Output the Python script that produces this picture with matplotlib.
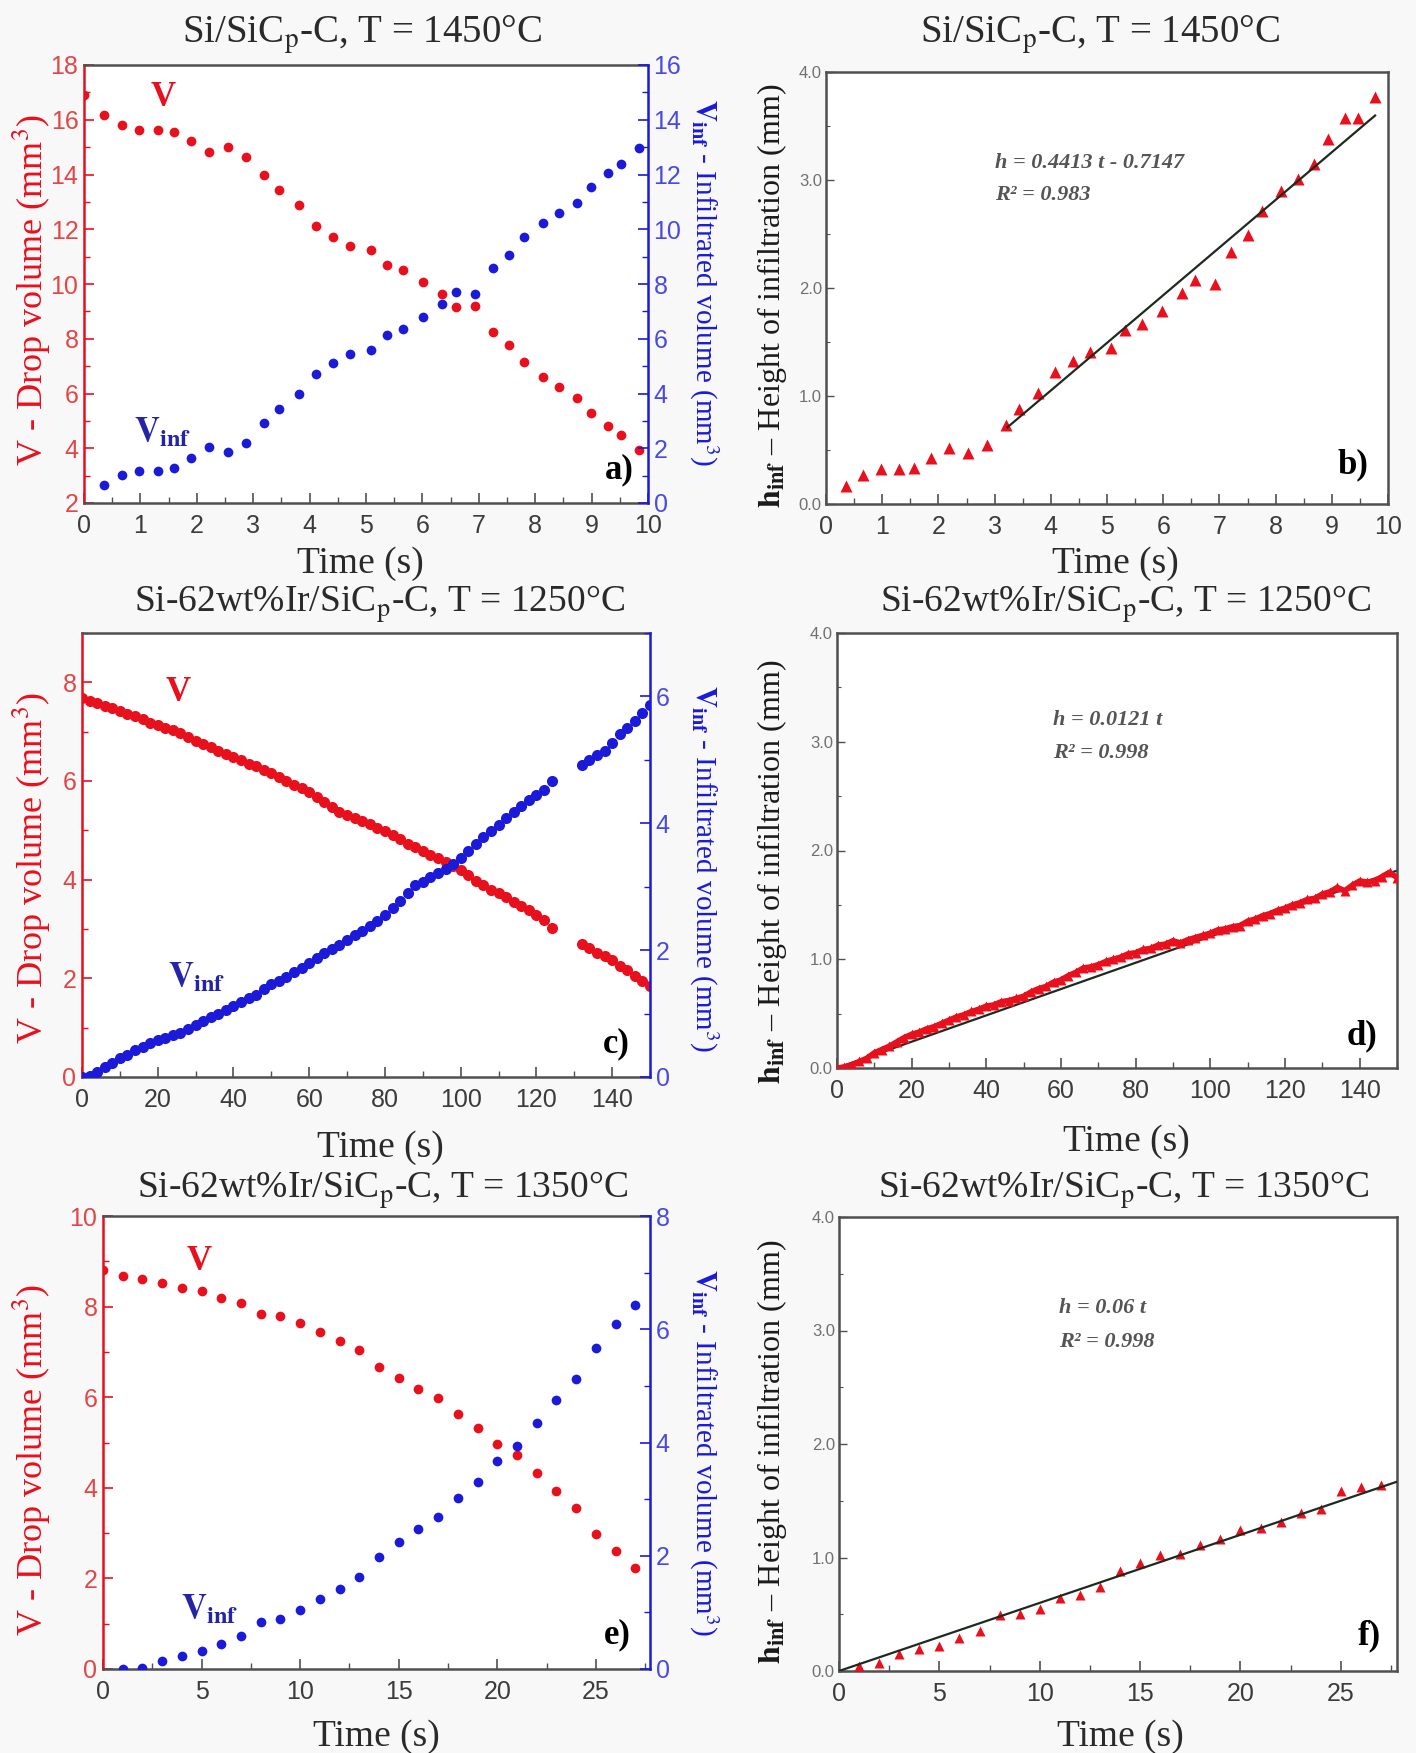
# Drop volume and infiltration height versus time for three Si/SiC systems.

import numpy as np
import matplotlib.pyplot as plt
from matplotlib.ticker import MultipleLocator, FormatStrFormatter

plt.rcParams['font.family'] = 'serif'
plt.rcParams['font.serif'] = ['Liberation Serif', 'DejaVu Serif']
plt.rcParams['mathtext.fontset'] = 'stix'

W, H = 1416, 1753
RED = '#e8101c'
BLUE = '#1a1ad8'
NAVY = '#2424a8'
GREY = '#505050'
FIT = '#1f2a1f'
TICK_FONT = ['Liberation Sans Narrow', 'Liberation Sans', 'DejaVu Sans']

# --- a) / b): Si/SiCp-C, 1450 C ---
t_drop_a = [0.0, 0.35, 0.67, 0.97, 1.32, 1.59, 1.90, 2.22, 2.55, 2.88, 3.20,
            3.46, 3.81, 4.12, 4.42, 4.72, 5.08, 5.38, 5.65, 6.01, 6.34, 6.60,
            6.93, 7.25, 7.54, 7.80, 8.14, 8.42, 8.74, 8.99, 9.29, 9.53, 9.84]
drop_a = [16.9, 16.18, 15.82, 15.61, 15.61, 15.54, 15.21, 14.81, 14.99, 14.64,
          13.98, 13.42, 12.87, 12.11, 11.72, 11.39, 11.25, 10.69, 10.52, 10.08,
          9.64, 9.15, 9.21, 8.24, 7.78, 7.15, 6.61, 6.24, 5.84, 5.27, 4.81,
          4.48, 3.92]
t_inf_a = [0.35, 0.67, 0.97, 1.32, 1.59, 1.90, 2.22, 2.55, 2.88, 3.20, 3.46,
           3.81, 4.12, 4.42, 4.72, 5.08, 5.38, 5.65, 6.01, 6.34, 6.60, 6.93,
           7.25, 7.54, 7.80, 8.14, 8.42, 8.74, 8.99, 9.29, 9.53, 9.84]
infl_a = [0.67, 1.03, 1.18, 1.18, 1.27, 1.64, 2.06, 1.88, 2.21, 2.91, 3.45,
          4.00, 4.73, 5.12, 5.45, 5.58, 6.15, 6.34, 6.79, 7.27, 7.72, 7.64,
          8.58, 9.05, 9.73, 10.23, 10.61, 10.97, 11.55, 12.04, 12.39, 12.97]

t_h_b = [0.36, 0.66, 0.97, 1.30, 1.56, 1.87, 2.19, 2.53, 2.86, 3.20, 3.44,
         3.78, 4.08, 4.40, 4.69, 5.08, 5.32, 5.62, 5.98, 6.34, 6.57, 6.92,
         7.20, 7.50, 7.76, 8.09, 8.40, 8.68, 8.93, 9.24, 9.47, 9.77]
h_b = [0.17, 0.27, 0.32, 0.32, 0.33, 0.43, 0.52, 0.47, 0.55, 0.73, 0.88,
       1.03, 1.22, 1.32, 1.41, 1.44, 1.61, 1.67, 1.79, 1.95, 2.07, 2.04,
       2.33, 2.49, 2.71, 2.90, 3.01, 3.15, 3.38, 3.57, 3.57, 3.77]
fit_b = (0.4413, -0.7147)
fit_range_b = [3.23, 9.77]

# --- c) / d): Si-62wt%Ir/SiCp-C, 1250 C ---
t_c = [0, 2, 4, 6, 8, 10, 12, 14, 16, 18, 20, 22, 24, 26, 28, 30, 32, 34, 36,
       38, 40, 42, 44, 46, 48, 50, 52, 54, 56, 58, 60, 62, 64, 66, 68, 70, 72,
       74, 76, 78, 80, 82, 84, 86, 88, 90, 92, 94, 96, 98, 100, 102, 104, 106,
       108, 110, 112, 114, 116, 118, 120, 122, 124,
       132, 134, 136, 138, 140, 142, 144, 146, 148, 150]
drop_c = [7.68, 7.62, 7.58, 7.52, 7.47, 7.42, 7.36, 7.31, 7.26, 7.18, 7.14,
          7.08, 7.03, 6.97, 6.90, 6.82, 6.76, 6.68, 6.60, 6.55, 6.48, 6.42,
          6.35, 6.30, 6.22, 6.17, 6.08, 6.01, 5.92, 5.86, 5.78, 5.68, 5.58,
          5.47, 5.38, 5.32, 5.26, 5.18, 5.12, 5.05, 4.98, 4.90, 4.82, 4.73,
          4.66, 4.58, 4.50, 4.44, 4.35, 4.28, 4.20, 4.10, 3.98, 3.90, 3.80,
          3.72, 3.64, 3.55, 3.46, 3.38, 3.28, 3.18, 3.02,
          2.70, 2.62, 2.52, 2.46, 2.38, 2.25, 2.16, 2.05, 1.95, 1.84]
infl_c = [0.00, 0.02, 0.08, 0.16, 0.22, 0.30, 0.35, 0.42, 0.47, 0.53, 0.58,
          0.62, 0.66, 0.70, 0.76, 0.82, 0.88, 0.94, 1.00, 1.06, 1.12, 1.18,
          1.24, 1.30, 1.38, 1.46, 1.52, 1.58, 1.65, 1.72, 1.80, 1.88, 1.96,
          2.02, 2.08, 2.16, 2.24, 2.30, 2.38, 2.46, 2.56, 2.66, 2.78, 2.90,
          3.02, 3.08, 3.16, 3.22, 3.28, 3.36, 3.46, 3.56, 3.68, 3.78, 3.88,
          3.98, 4.08, 4.18, 4.28, 4.36, 4.44, 4.52, 4.66,
          4.92, 5.00, 5.08, 5.14, 5.26, 5.40, 5.50, 5.62, 5.74, 5.86]

t_d = [0, 2, 4, 6, 8, 10, 12, 14, 16, 18, 20, 22, 24, 26, 28, 30, 32, 34, 36,
       38, 40, 42, 44, 46, 48, 50, 52, 54, 56, 58, 60, 62, 64, 66, 68, 70, 72,
       74, 76, 78, 80, 82, 84, 86, 88, 90, 92, 94, 96, 98, 100, 102, 104, 106,
       108, 110, 112, 114, 116, 118, 120, 122, 124, 126, 128, 130, 132, 134,
       136, 138, 140, 142, 144, 146, 148, 150]
h_d = [0.00, 0.01, 0.03, 0.06, 0.09, 0.14, 0.17, 0.20, 0.24, 0.28, 0.31,
       0.33, 0.36, 0.38, 0.41, 0.44, 0.47, 0.49, 0.52, 0.54, 0.57, 0.58,
       0.61, 0.62, 0.64, 0.66, 0.70, 0.73, 0.75, 0.79, 0.81, 0.85, 0.88,
       0.92, 0.93, 0.95, 0.98, 1.00, 1.02, 1.05, 1.06, 1.09, 1.10, 1.13,
       1.14, 1.17, 1.15, 1.18, 1.20, 1.22, 1.24, 1.27, 1.28, 1.30, 1.31,
       1.35, 1.37, 1.40, 1.42, 1.45, 1.47, 1.50, 1.52, 1.55, 1.56, 1.60,
       1.62, 1.66, 1.63, 1.68, 1.72, 1.71, 1.72, 1.76, 1.80, 1.75]
fit_d = (0.0121, 0.0)
fit_range_d = [0, 150]

# --- e) / f): Si-62wt%Ir/SiCp-C, 1350 C ---
t_drop_e = [0, 1, 2, 3, 4, 5, 6, 7, 8, 9, 10, 11, 12, 13, 14, 15, 16, 17, 18,
            19, 20, 21, 22, 23, 24, 25, 26, 27]
drop_e = [8.80, 8.68, 8.62, 8.53, 8.41, 8.34, 8.20, 8.08, 7.83, 7.79, 7.63,
          7.43, 7.24, 7.05, 6.67, 6.42, 6.19, 5.98, 5.63, 5.33, 4.96, 4.73,
          4.32, 3.93, 3.55, 2.99, 2.60, 2.22]
t_inf_e = [1, 2, 3, 4, 5, 6, 7, 8, 9, 10, 11, 12, 13, 14, 15, 16, 17, 18, 19,
           20, 21, 22, 23, 24, 25, 26, 27]
infl_e = [0.00, 0.02, 0.14, 0.23, 0.32, 0.44, 0.58, 0.83, 0.89, 1.05, 1.24,
          1.41, 1.62, 1.97, 2.24, 2.47, 2.68, 3.02, 3.30, 3.68, 3.93, 4.35,
          4.75, 5.12, 5.67, 6.09, 6.43]

t_h_f = [1, 2, 3, 4, 5, 6, 7, 8, 9, 10, 11, 12, 13, 14, 15, 16, 17, 18, 19,
         20, 21, 22, 23, 24, 25, 26, 27]
h_f = [0.04, 0.07, 0.15, 0.19, 0.22, 0.29, 0.35, 0.49, 0.50, 0.55, 0.64,
       0.67, 0.74, 0.88, 0.95, 1.02, 1.03, 1.11, 1.16, 1.24, 1.26, 1.31,
       1.39, 1.43, 1.59, 1.62, 1.64]
fit_f = (0.06, 0.0)
fit_range_f = [0, 27.8]

TITLE_1450 = r'Si/SiC$_\mathrm{p}$-C, T = 1450°C'
TITLE_1250 = r'Si-62wt%Ir/SiC$_\mathrm{p}$-C, T = 1250°C'
TITLE_1350 = r'Si-62wt%Ir/SiC$_\mathrm{p}$-C, T = 1350°C'


def px_rect(left, top, right, bottom):
    """Axes rectangle in figure fractions from pixel edges."""
    return [left / W, 1 - bottom / H, (right - left) / W, (bottom - top) / H]


def fig_text(fig, x, y, s, **kw):
    """Place text centred at pixel position (x, y) measured from the top left."""
    fig.text(x / W, 1 - y / H, s, ha='center', va='center', **kw)


def style_time_axis(ax, xlim, major, minor):
    ax.set_xlim(*xlim)
    ax.xaxis.set_major_locator(MultipleLocator(major))
    ax.xaxis.set_minor_locator(MultipleLocator(minor))
    ax.tick_params(axis='x', which='both', direction='in', top=False,
                   color=GREY, labelcolor='#3c3c3c', labelsize=18, pad=8,
                   labelfontfamily=TICK_FONT)
    ax.tick_params(axis='x', which='major', length=7, width=1.2)
    ax.tick_params(axis='x', which='minor', length=4, width=1.0)
    for side in ('top', 'bottom'):
        ax.spines[side].set_color(GREY)
        ax.spines[side].set_linewidth(1.8)


def volume_panel(fig, rect, t_drop, drop, t_inf, infl, xlim, xmajor, xminor,
                 ylim_left, ylim_right, v_pos, vinf_pos, letter, ms):
    """Drop volume (left, red) and infiltrated volume (right, blue)."""
    ax = fig.add_axes(rect)
    ax2 = ax.twinx()
    ax.plot(t_drop, drop, 'o', color=RED, ms=ms, mec='none', zorder=3)
    ax2.plot(t_inf, infl, 'o', color=BLUE, ms=ms, mec='none', zorder=3)

    style_time_axis(ax, xlim, xmajor, xminor)
    ax.set_ylim(*ylim_left)
    ax2.set_ylim(*ylim_right)
    for a, c, lc in ((ax, RED, '#e04848'), (ax2, BLUE, '#4a4ae0')):
        a.yaxis.set_major_locator(MultipleLocator(2))
        a.yaxis.set_minor_locator(MultipleLocator(1))
        a.tick_params(axis='y', which='both', direction='in', color=c,
                      labelcolor=lc, labelsize=18, pad=4,
                      labelfontfamily=TICK_FONT)
        a.tick_params(axis='y', which='major', length=7, width=1.2)
        a.tick_params(axis='y', which='minor', length=4, width=1.0)
    ax.spines['left'].set_color(RED)
    ax.spines['left'].set_linewidth(1.8)
    ax.spines['right'].set_visible(False)
    for side in ('left', 'top', 'bottom'):
        ax2.spines[side].set_visible(False)
    ax2.spines['right'].set_color(BLUE)
    ax2.spines['right'].set_linewidth(1.8)

    ax.text(v_pos[0], v_pos[1], 'V', color=RED, fontsize=25,
            fontweight='bold', ha='center', va='center')
    ax.text(vinf_pos[0], vinf_pos[1], r'$\mathbf{V_{inf}}$', color=NAVY,
            fontsize=25, ha='center', va='center')
    ax2.text(letter[1], letter[2], letter[0], transform=ax.transAxes,
             fontsize=25, fontweight='bold', ha='center', va='center')
    return ax, ax2


def height_panel(fig, rect, t, h, xlim, xmajor, xminor, fit, fit_range,
                 equation, eq_pos, letter, ms, dense=False):
    """Infiltration height with its linear fit."""
    ax = fig.add_axes(rect)
    if dense:
        ax.plot(t, h, '^-', color=RED, ms=ms, lw=4, mec='none', zorder=3)
    else:
        ax.plot(t, h, '^', color=RED, ms=ms, mec='none', zorder=3)
    fit_t = np.array(fit_range)
    ax.plot(fit_t, fit[0] * fit_t + fit[1], color=FIT, lw=1.6,
            zorder=2 if dense else 4)

    style_time_axis(ax, xlim, xmajor, xminor)
    ax.set_ylim(0, 4)
    ax.yaxis.set_major_locator(MultipleLocator(1))
    ax.yaxis.set_minor_locator(MultipleLocator(0.5))
    ax.yaxis.set_major_formatter(FormatStrFormatter('%.1f'))
    ax.tick_params(axis='y', which='both', direction='in', color=GREY,
                   labelcolor='#707070', labelsize=12, pad=3,
                   labelfontfamily=['Liberation Sans', 'DejaVu Sans'])
    ax.tick_params(axis='y', which='major', length=6, width=1.0)
    ax.tick_params(axis='y', which='minor', length=3, width=0.8)
    for side in ('left', 'right'):
        ax.spines[side].set_color(GREY)
        ax.spines[side].set_linewidth(1.8)

    for k, line in enumerate(equation):
        ax.text(eq_pos[0], eq_pos[1] - 0.075 * k, line,
                transform=ax.transAxes, fontsize=16, fontstyle='italic',
                fontweight='bold', color='#555555', ha='left', va='center')
    ax.text(letter[1], letter[2], letter[0], transform=ax.transAxes,
            fontsize=25, fontweight='bold', ha='center', va='center')
    return ax


fig = plt.figure(figsize=(W / 100, H / 100), dpi=100, facecolor='#f8f8f8')

# left column: volumes
volume_panel(fig, px_rect(84, 65, 648, 503), t_drop_a, drop_a, t_inf_a, infl_a,
             (0, 10), 1, 0.5, (2, 18), (0, 16), (1.4, 16.8), (1.4, 4.55),
             ('a)', 0.95, 0.075), ms=7)
volume_panel(fig, px_rect(82, 633, 650, 1077), t_c, drop_c, t_c, infl_c,
             (0, 150), 20, 10, (0, 9), (0, 7), (25.3, 7.8), (30.2, 2.0),
             ('c)', 0.94, 0.075), ms=8)
volume_panel(fig, px_rect(103, 1216, 650, 1669), t_drop_e, drop_e, t_inf_e,
             infl_e, (0, 27.75), 5, 2.5, (0, 10), (0, 8), (4.9, 9.0),
             (5.4, 1.3), ('e)', 0.94, 0.075), ms=7)

# right column: infiltration heights
height_panel(fig, px_rect(826, 72, 1388, 504), t_h_b, h_b, (0, 10), 1, 0.5,
             fit_b, fit_range_b, ('h = 0.4413 t - 0.7147', 'R² = 0.983'),
             (0.30, 0.79), ('b)', 0.937, 0.09), ms=8)
height_panel(fig, px_rect(837, 633, 1397, 1068), t_d, h_d, (0, 150), 20, 10,
             fit_d, fit_range_d, ('h = 0.0121 t', 'R² = 0.998'),
             (0.385, 0.80), ('d)', 0.937, 0.075), ms=7, dense=True)
height_panel(fig, px_rect(839, 1217, 1397, 1671), t_h_f, h_f, (0, 27.8), 5, 2.5,
             fit_f, fit_range_f, ('h = 0.06 t', 'R² = 0.998'),
             (0.394, 0.80), ('f)', 0.95, 0.078), ms=7)

# panel titles
fig_text(fig, 362, 35, TITLE_1450, fontsize=28, color='#2a2a2a')
fig_text(fig, 1100, 35, TITLE_1450, fontsize=28, color='#2a2a2a')
fig_text(fig, 380, 604, TITLE_1250, fontsize=27, color='#2a2a2a')
fig_text(fig, 1126, 604, TITLE_1250, fontsize=27, color='#2a2a2a')
fig_text(fig, 383, 1190, TITLE_1350, fontsize=27, color='#2a2a2a')
fig_text(fig, 1124, 1190, TITLE_1350, fontsize=27, color='#2a2a2a')

# time axis labels
for x, y in ((360, 564), (1115, 564), (380, 1148), (1126, 1142),
             (376, 1737), (1120, 1737)):
    fig_text(fig, x, y, 'Time (s)', fontsize=27, color='#2a2a2a')

# volume axis labels
for y in (290, 868, 1460):
    fig_text(fig, 32, y, 'V - Drop volume (mm$^3$)', fontsize=26,
             color=RED, rotation=90)
for y in (282, 868, 1452):
    fig_text(fig, 704, y, r'$\mathbf{V_{inf}}$ - Infiltrated volume (mm$^3$)',
             fontsize=21, color=BLUE, rotation=-90)

# height axis labels
for y in (296, 872, 1452):
    fig_text(fig, 772, y, r'$\mathbf{h_{inf}}$ – Height of infiltration (mm)',
             fontsize=23, color='#1a1a1a', rotation=90)

fig.savefig('out.png', dpi=100, facecolor=fig.get_facecolor())
